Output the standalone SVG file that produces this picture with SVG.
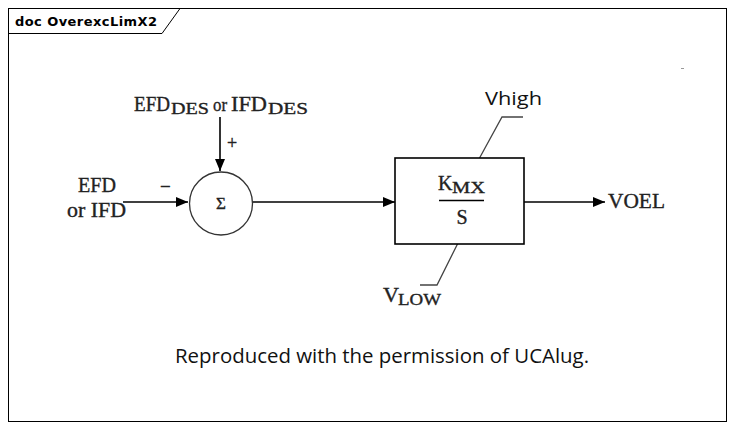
<svg xmlns="http://www.w3.org/2000/svg" width="735" height="431" viewBox="0 0 735 431">
<style>
.ln{stroke:#000;stroke-width:1.6;fill:none}
.lead{stroke:#444;stroke-width:1.3;fill:none}
.serif{font-family:"Liberation Serif","Times New Roman",serif;fill:#222;stroke:#222;stroke-width:0.35}
.sans{font-family:"Open Sans","Noto Sans",sans-serif;fill:#111}
</style>
<defs>
<marker id="arr" viewBox="0 0 12 10" refX="12" refY="5" markerWidth="12" markerHeight="10" markerUnits="userSpaceOnUse" orient="auto">
<path d="M0,0 L12,5 L0,10 Z" fill="#000"/>
</marker>
</defs>
<rect x="0" y="0" width="735" height="431" fill="#fff"/>
<g id="frame">
<rect x="8.5" y="8.5" width="718" height="413" fill="none" stroke="#000" stroke-width="1"/>
<path d="M8.5,33.5 L162,33.5 L180,8.5" fill="none" stroke="#000" stroke-width="1"/>
<text x="15" y="26" font-family="DejaVu Sans,sans-serif" font-weight="bold" font-size="13" textLength="142" fill="#000">doc OverexcLimX2</text>
</g>
<rect x="681" y="68" width="3" height="1" fill="#999"/>
<g id="connectors">
<line class="ln" x1="220" y1="117" x2="220" y2="171" marker-end="url(#arr)"/>
<line class="ln" x1="123" y1="202" x2="188" y2="202" marker-end="url(#arr)"/>
<line class="ln" x1="253" y1="202" x2="395" y2="202" marker-end="url(#arr)"/>
<line class="ln" x1="524" y1="202" x2="605" y2="202" marker-end="url(#arr)"/>
<polyline class="lead" points="523,117 502,117 479,159"/>
<polyline class="lead" points="458,243 437,285 420,285"/>
</g>
<g id="input-des">
<text class="serif" x="134" y="111" font-size="20" textLength="36" lengthAdjust="spacingAndGlyphs">EFD</text>
<text class="serif" x="171" y="114" font-size="17" textLength="38" lengthAdjust="spacingAndGlyphs">DES</text>
<text class="serif" x="213" y="111" font-size="19" textLength="14" lengthAdjust="spacingAndGlyphs">or</text>
<text class="serif" x="231" y="111" font-size="20" textLength="36" lengthAdjust="spacingAndGlyphs">IFD</text>
<text class="serif" x="268" y="114" font-size="17" textLength="40" lengthAdjust="spacingAndGlyphs">DES</text>
<text class="serif" x="227" y="149" font-size="18">+</text>
</g>
<g id="input-efd">
<text class="serif" x="78" y="192" font-size="21" textLength="38" lengthAdjust="spacingAndGlyphs">EFD</text>
<text class="serif" x="67" y="217" font-size="21" textLength="59" lengthAdjust="spacingAndGlyphs">or IFD</text>
<text class="serif" x="160" y="193" font-size="19">−</text>
</g>
<g id="sum">
<circle cx="221" cy="203.5" r="31.5" fill="#fff" stroke="#333" stroke-width="1.3"/>
<text class="serif" x="221" y="209" font-size="17" text-anchor="middle">Σ</text>
</g>
<g id="integrator">
<rect x="395" y="158" width="129" height="86" fill="#fff" stroke="#000" stroke-width="1.6"/>
<text class="serif" x="438" y="190" font-size="20">K</text>
<text class="serif" x="452" y="193" font-size="16" textLength="33" lengthAdjust="spacingAndGlyphs">MX</text>
<line x1="439" y1="200.5" x2="484" y2="200.5" stroke="#000" stroke-width="1.6"/>
<text class="serif" x="462" y="224" font-size="20" text-anchor="middle">S</text>
</g>
<g id="vhigh">
<text class="sans" x="485" y="105" font-size="19" textLength="57" lengthAdjust="spacingAndGlyphs">Vhigh</text>
</g>
<g id="vlow">
<text class="serif" x="383" y="302" font-size="22" textLength="16" lengthAdjust="spacingAndGlyphs">V</text>
<text class="serif" x="398" y="305" font-size="17" textLength="43" lengthAdjust="spacingAndGlyphs">LOW</text>
</g>
<g id="output">
<text class="serif" x="608" y="208" font-size="21" textLength="57" lengthAdjust="spacingAndGlyphs">VOEL</text>
</g>
<text class="sans" x="175" y="363" font-size="20" textLength="414" lengthAdjust="spacingAndGlyphs">Reproduced with the permission of UCAlug.</text>
</svg>
